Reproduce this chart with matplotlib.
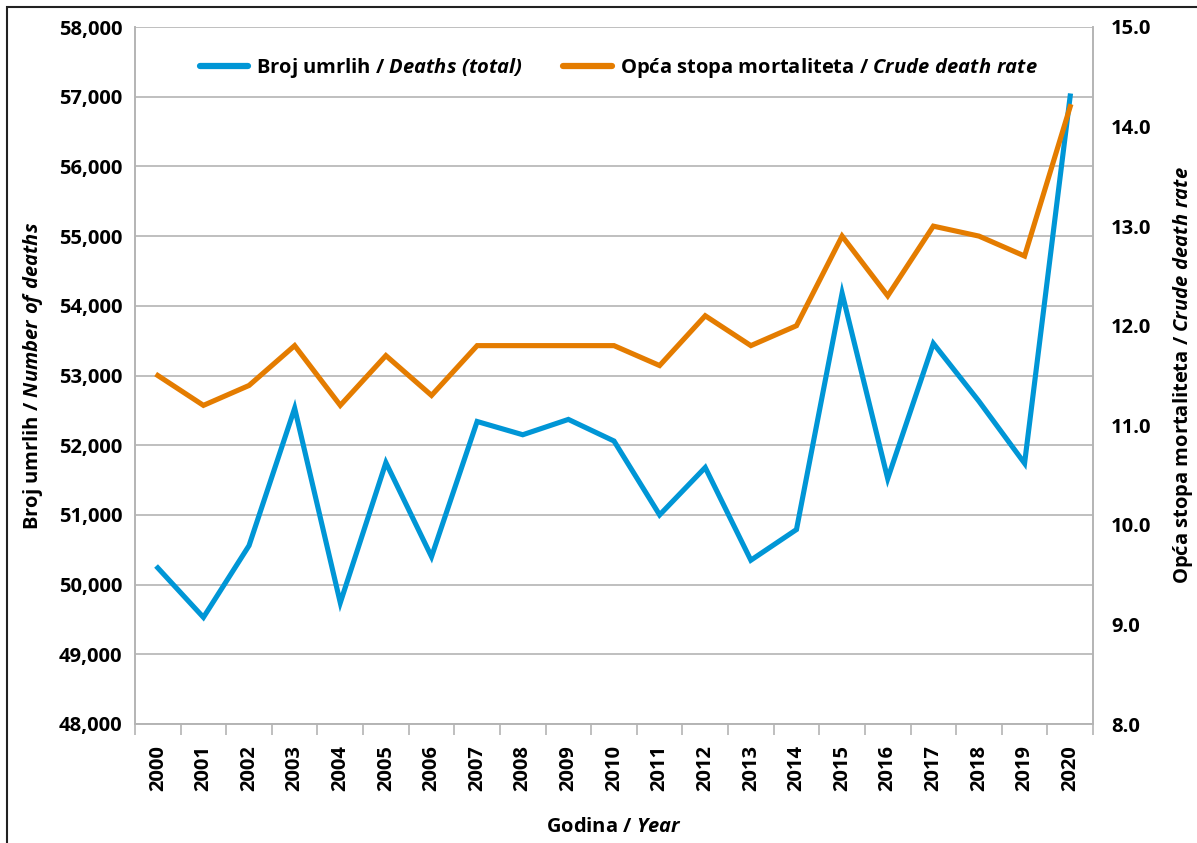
import numpy as np
import matplotlib
matplotlib.use('Agg')
import matplotlib.pyplot as plt
from matplotlib.patches import Rectangle

years = [str(y) for y in range(2000, 2021)]
deaths = [50240, 49530, 50560, 52530, 49740, 51750, 50400, 52340, 52150, 52370, 52060,
          51000, 51680, 50350, 50790, 54180, 51520, 53460, 52630, 51740, 57010]
crude_rate = [11.5, 11.2, 11.4, 11.8, 11.2, 11.7, 11.3, 11.8, 11.8, 11.8, 11.8,
              11.6, 12.1, 11.8, 12.0, 12.9, 12.3, 13.0, 12.9, 12.7, 14.2]

left_ticks = np.arange(48000, 58001, 1000)
right_ticks = np.arange(8.0, 15.01, 1.0)

FONT = 'Open Sans'
plt.rcParams['font.family'] = FONT
plt.rcParams['font.weight'] = 'bold'
# mathtext only used for the italic parts
plt.rcParams['mathtext.fontset'] = 'custom'
plt.rcParams['mathtext.it'] = FONT + ':italic:bold'
plt.rcParams['mathtext.rm'] = FONT + ':italic:bold'
plt.rcParams['mathtext.default'] = 'it'

blue = '#0096d6'
orange = '#e47c00'
gray = '#b4b4b4'
fs = 14.5

fig = plt.figure(figsize=(11.97, 8.43), dpi=100)
ax = fig.add_axes([135 / 1197, 1 - 724 / 843, (1093 - 135) / 1197, (724 - 27) / 843])
ax2 = ax.twinx()

x = np.arange(len(years))
l1, = ax.plot(x, deaths, color=blue, lw=3.7, solid_joinstyle='miter', zorder=3,
              label=r'Broj umrlih / $Deaths\ (total)$')
l2, = ax2.plot(x, crude_rate, color=orange, lw=3.7, solid_joinstyle='miter', zorder=3,
               label=r'Opća stopa mortaliteta / $Crude\ death\ rate$')

ax.set_xlim(-0.5, len(years) - 0.5)
ax.set_ylim(48000, 58000)
ax.set_yticks(left_ticks)
ax.set_yticklabels([f'{v:,}' for v in left_ticks], fontsize=fs, fontweight='bold')
ax.tick_params(axis='y', length=0, pad=9)
ax.grid(axis='y', color=gray, lw=1.2)
ax.set_axisbelow(True)

ax.set_xticks(x)
ax.set_xticklabels(years, rotation=90, fontsize=fs, fontweight='bold')
ax.tick_params(axis='x', which='major', length=0, pad=15)
ax.set_xticks(np.arange(-0.5, len(years), 1), minor=True)
ax.tick_params(axis='x', which='minor', length=8, width=1.2, color=gray)

ax2.set_ylim(8.0, 15.0)
ax2.set_yticks(right_ticks)
ax2.set_yticklabels([f'{v:.1f}' for v in right_ticks], fontsize=fs, fontweight='bold')
ax2.tick_params(axis='y', length=0, pad=13)

for a in (ax, ax2):
    a.spines['top'].set_visible(False)
    for s in ('left', 'right', 'bottom'):
        a.spines[s].set_color(gray)
        a.spines[s].set_linewidth(1.2)

ax.set_ylabel(r'Broj umrlih / $Number\ of\ deaths$', fontsize=fs, fontweight='bold', labelpad=10)
ax2.set_ylabel(r'Opća stopa mortaliteta / $Crude\ death\ rate$', fontsize=fs,
               fontweight='bold', labelpad=14)
ax.set_xlabel(r'Godina / $Year$', fontsize=fs, fontweight='bold', labelpad=19)

leg = ax.legend(handles=[l1, l2], loc='upper center', bbox_to_anchor=(0.505, 0.985), ncol=2,
                frameon=False, fontsize=14.5, handlelength=2.4, handletextpad=0.4, columnspacing=2.0)
for line in leg.get_lines():
    line.set_linewidth(4.5)
    line.set_solid_capstyle('round')

fig.patches.append(Rectangle((7 / 1197, -0.1), 1.2, 1 - 7 / 843 + 0.1, transform=fig.transFigure,
                             fill=False, edgecolor='#222222', lw=1.5))

fig.savefig('out.png', dpi=100)
